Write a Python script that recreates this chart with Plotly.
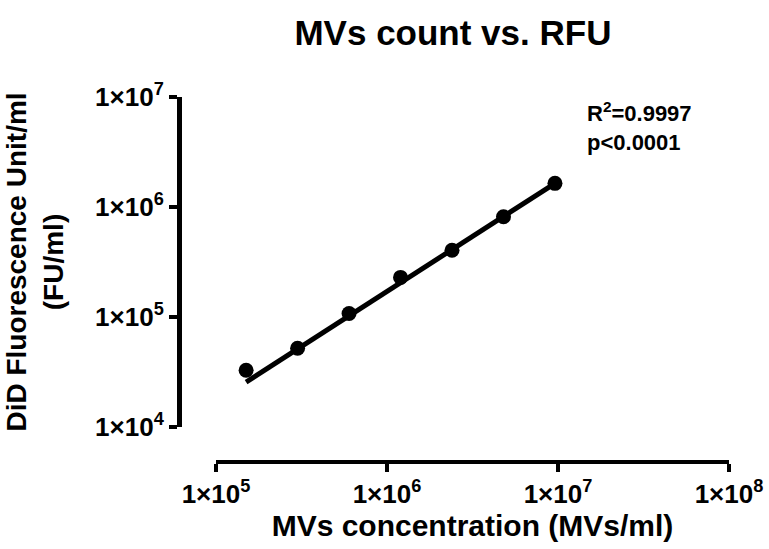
import numpy as np
import plotly.graph_objects as go

# Data
mvs_conc = [1.5e5, 3.0e5, 6.0e5, 1.2e6, 2.4e6, 4.8e6, 9.6e6]
rfu = [3.28e4, 5.2e4, 1.077e5, 2.29e5, 4.05e5, 8.15e5, 1.64e6]
x_ticks = [1e5, 1e6, 1e7, 1e8]
x_ticklabels = ["<b>1×10<sup>5</sup></b>", "<b>1×10<sup>6</sup></b>",
                "<b>1×10<sup>7</sup></b>", "<b>1×10<sup>8</sup></b>"]
y_ticks = [1e4, 1e5, 1e6, 1e7]
y_ticklabels = ["<b>1×10<sup>4</sup></b>", "<b>1×10<sup>5</sup></b>",
                "<b>1×10<sup>6</sup></b>", "<b>1×10<sup>7</sup></b>"]
stats_text = "R<sup>2</sup>=0.9997<br>p<0.0001"

# Linear regression through the origin
xa = np.array(mvs_conc)
ya = np.array(rfu)
slope = float(np.sum(xa * ya) / np.sum(xa * xa))
xfit = np.logspace(np.log10(xa.min()), np.log10(xa.max()), 100)
yfit = slope * xfit

FONT = "Liberation Sans, Arial, sans-serif"

fig = go.Figure()
fig.add_trace(go.Scatter(x=xfit, y=yfit, mode="lines",
                         line=dict(color="black", width=5), showlegend=False))
fig.add_trace(go.Scatter(x=mvs_conc, y=rfu, mode="markers",
                         marker=dict(color="black", size=15), showlegend=False))

fig.add_annotation(x=7.16, y=6.73, xref="x", yref="y",
                   text="<b>" + stats_text + "</b>", showarrow=False,
                   xanchor="left", yanchor="middle", align="left",
                   font=dict(family=FONT, size=22, color="black"))

fig.update_layout(
    width=769, height=549,
    margin=dict(l=179, r=40, t=97, b=87, autoexpand=False),
    paper_bgcolor="white", plot_bgcolor="white",
    title=dict(text="<b>MVs count vs. RFU</b>", x=0.589, xanchor="center",
               y=0.94, yanchor="middle",
               font=dict(family=FONT, size=35, color="black")),
    xaxis=dict(type="log", range=[5, 8], domain=[37 / 550, 1],
               anchor="free", position=0, automargin=False,
               tickvals=x_ticks, ticktext=x_ticklabels,
               ticks="outside", ticklen=8, tickwidth=4, tickcolor="black",
               showline=True, linewidth=4, linecolor="black",
               showgrid=False, zeroline=False,
               tickfont=dict(family=FONT, size=26, color="black"),
               title=dict(text="<b>MVs concentration (MVs/ml)</b>", standoff=6,
                          font=dict(family=FONT, size=30, color="black"))),
    yaxis=dict(type="log", range=[4, 7], domain=[35 / 365, 1],
               anchor="free", position=0, automargin=False,
               tickvals=y_ticks, ticktext=y_ticklabels,
               ticks="outside", ticklen=8, tickwidth=4, tickcolor="black",
               showline=True, linewidth=5, linecolor="black",
               showgrid=False, zeroline=False,
               tickfont=dict(family=FONT, size=26, color="black"),
               title=dict(text="<b>DiD Fluorescence Unit/ml<br>(FU/ml)</b>", standoff=22,
                          font=dict(family=FONT, size=28, color="black"))),
)

fig.write_html("out.html")
